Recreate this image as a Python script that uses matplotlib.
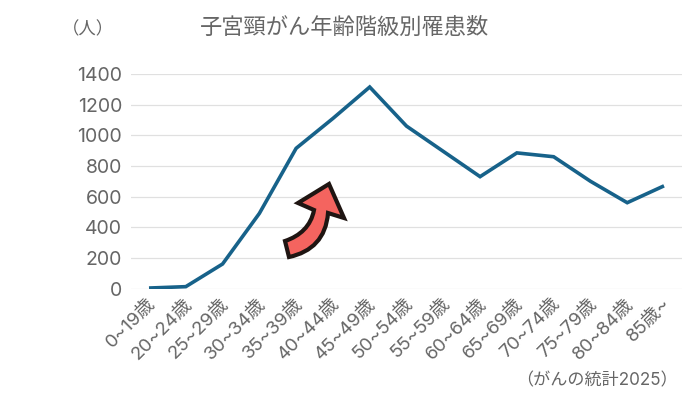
import matplotlib
matplotlib.use("Agg")
import matplotlib.pyplot as plt
from matplotlib.path import Path
from matplotlib.patches import PathPatch
from matplotlib.transforms import ScaledTranslation

plt.rcParams['font.family'] = ['Inter', 'Noto Sans CJK JP', 'DejaVu Sans']

categories = ["0~19歳", "20~24歳", "25~29歳", "30~34歳", "35~39歳", "40~44歳", "45~49歳", "50~54歳",
              "55~59歳", "60~64歳", "65~69歳", "70~74歳", "75~79歳", "80~84歳", "85歳~"]
patients = [3, 12, 160, 490, 915, 1110, 1315, 1060, 895, 730, 885, 860, 700, 560, 670]
yticks = [0, 200, 400, 600, 800, 1000, 1200, 1400]
title = "子宮頸がん年齢階級別罹患数"
unit = "（人）"
source = "（がんの統計2025）"

W, H = 690, 394
fig = plt.figure(figsize=(W / 100, H / 100), dpi=100, facecolor="white")
ax = fig.add_axes([130.6 / W, 1 - 288.5 / H, (682.4 - 130.6) / W, (288.5 - 74) / H])
x = list(range(len(categories)))
ax.plot(x, patients, color="#17628a", lw=2.6, solid_joinstyle="miter", solid_capstyle="butt", zorder=3)
ax.set_xlim(-0.5, len(categories) - 0.5)
ax.set_ylim(0, 1400)
ax.set_yticks(yticks)
ax.set_xticks(x)
ax.set_xticklabels(categories, rotation=45, ha="right", rotation_mode="anchor")
ax.tick_params(axis="both", length=0, labelsize=14, labelcolor="#666666")
ax.tick_params(axis="x", pad=5, labelsize=13.5)
ax.tick_params(axis="y", pad=6)
shift = ScaledTranslation(-2 / 100, 0, fig.dpi_scale_trans)
for t in ax.get_xticklabels():
    t.set_transform(t.get_transform() + shift)
ax.grid(axis="y", color="#e0e0e0", lw=0.9)
ax.set_axisbelow(True)
for s in ax.spines.values():
    s.set_visible(False)

fig.text(345 / W, 1 - 27 / H, title, ha="center", va="center", fontsize=16, color="#666666")
fig.text(88 / W, 1 - 30 / H, unit, ha="center", va="center", fontsize=12.5, color="#666666")
fig.text(678 / W, 1 - 381 / H, source, ha="right", va="center", fontsize=12.3, color="#666666")

# Decorative arrow, in figure pixels
pts = [(289, 257), (285, 241), (300, 236), (311, 226), (314, 210), (298, 203), (329, 184), (344, 218),
       (328, 213), (326, 238), (312, 252), (289, 257), (289, 257)]
codes = [Path.MOVETO, Path.LINETO, Path.CURVE4, Path.CURVE4, Path.CURVE4, Path.LINETO, Path.LINETO, Path.LINETO,
         Path.LINETO, Path.CURVE4, Path.CURVE4, Path.CURVE4, Path.CLOSEPOLY]
path = Path([(a / W, 1 - b / H) for a, b in pts], codes)
fig.add_artist(PathPatch(path, transform=fig.transFigure, facecolor="#f4645f", edgecolor="#1f1512",
                         lw=3, joinstyle="miter", zorder=5))
fig.savefig("out.png", dpi=100)
